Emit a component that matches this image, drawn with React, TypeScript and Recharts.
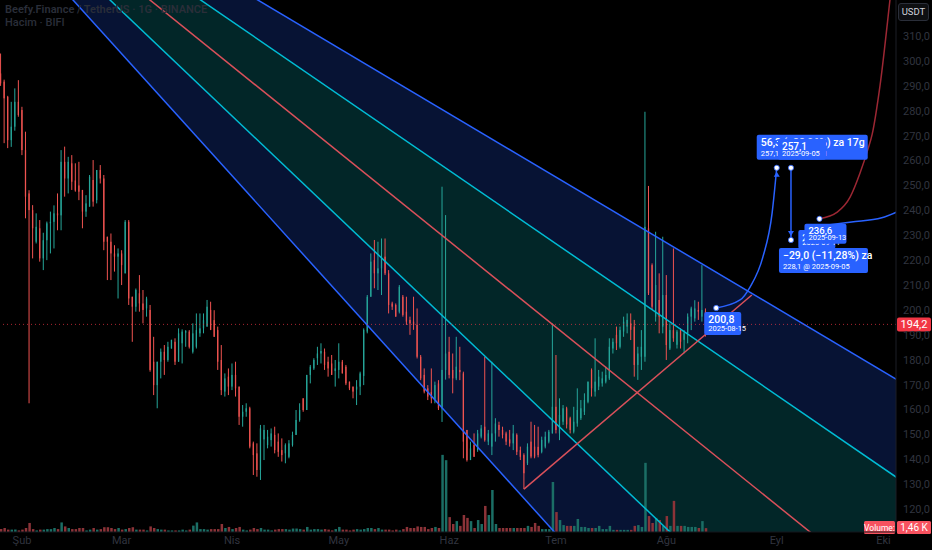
import React from "react";
import {
  Area,
  Bar,
  Cell,
  ComposedChart,
  Line,
  ReferenceDot,
  ReferenceLine,
  XAxis,
  YAxis,
} from "recharts";

const W = 932;
const H = 550;
const FONT = "Roboto, 'Noto Sans', sans-serif";

const BG = "#000000";
const TEXT = "#30343f";
const UP = "#26a69a";
const DOWN = "#ef5350";
const UP_VOL = "#1b6e65";
const DOWN_VOL = "#8c3338";
const FAN_BLUE = "#2962ff";
const FAN_CYAN = "#00bcd4";
const FAN_RED = "#d9505a";
const NAVY = "#071334";
const TEAL = "#022628";
const NOTE_BLUE = "#2962ff";
const PATH_RED = "#9c2733";
const BADGE_RED = "#f23645";

// day 0 = 2025-02-01, first candle = 2025-01-26
const FIRST_DAY = -6;
const X_MIN = -6.18;
const X_MAX = 245.5;
const Y_MIN = 110.8;
const Y_MAX = 324.5;

const MONTH_TICKS = [0, 28, 59, 89, 120, 150, 181, 212, 242];
const MONTH_LABELS = ["Şub", "Mar", "Nis", "May", "Haz", "Tem", "Ağu", "Eyl", "Eki"];
const PRICE_TICKS = [120, 130, 140, 150, 160, 170, 180, 190, 200, 210, 220, 230, 240, 250, 260, 270, 280, 290, 300, 310];

const OPEN = [
  295.0, 291.7, 285.6, 268.2, 273.6, 283.6, 280.3, 264.2, 246.8, 240.1,
  227.4, 232.8, 220.7, 228.0, 234.8, 235.4, 238.8, 238.0, 259.5, 252.8,
  258.9, 252.0, 250.0, 248.2, 239.5, 241.5, 252.2, 244.1, 256.2, 252.8,
  229.4, 227.4, 222.7, 221.4, 222.7, 214.7, 235.4, 205.3, 201.3, 206.7,
  202.6, 200.6, 200.0, 179.2, 169.8, 179.2, 183.2, 179.9, 184.5, 187.2,
  179.2, 186.6, 190.9, 191.3, 183.2, 185.2, 190.6, 192.6, 193.3, 200.0,
  195.9, 191.9, 179.9, 167.2, 173.2, 169.2, 173.9, 169.2, 157.1, 159.1,
  160.5, 146.4, 142.4, 135.7, 148.0, 145.7, 147.7, 149.8, 147.1, 143.7,
  142.4, 141.0, 145.7, 149.8, 155.8, 164.5, 159.8, 173.9, 176.5, 180.6,
  182.5, 183.2, 179.2, 178.5, 175.5, 175.9, 179.2, 177.2, 171.2, 169.2,
  168.0, 169.2, 173.5, 191.3, 205.3, 220.0, 214.7, 216.7, 221.4, 214.7,
  202.6, 202.0, 199.3, 205.3, 199.3, 196.0, 195.3, 194.0, 181.2, 173.9,
  168.5, 167.0, 164.0, 170.5, 160.5, 175.9, 183.2, 175.9, 172.5, 175.9,
  174.5, 151.8, 139.7, 145.7, 143.7, 149.1, 153.1, 147.1, 145.1, 150.4,
  153.8, 151.8, 150.4, 148.0, 146.4, 149.8, 143.7, 141.7, 138.4, 147.1,
  145.1, 145.0, 143.0, 145.1, 147.1, 150.4, 161.1, 150.4, 155.1, 160.5,
  156.5, 151.1, 154.4, 156.5, 159.1, 163.1, 175.9, 167.2, 169.2, 170.5,
  171.2, 172.5, 184.5, 190.0, 185.2, 191.3, 193.3, 194.6, 193.3, 177.9,
  181.2, 181.2, 232.8, 218.0, 197.3, 204.0, 193.3, 206.0, 184.5, 191.9,
  186.0, 191.9, 188.0, 190.6, 197.3, 196.6, 200.0, 197.3, 199.3,
];

const HIGH = [
  303.0, 292.5, 286.0, 283.6, 289.0, 292.3, 281.6, 271.6, 248.1, 242.1,
  238.8, 236.1, 231.0, 235.5, 239.5, 242.0, 246.8, 264.2, 265.6, 261.5,
  262.2, 258.9, 259.5, 248.2, 246.1, 254.2, 260.2, 256.2, 258.2, 254.2,
  229.4, 230.7, 226.0, 224.7, 224.0, 236.1, 236.1, 205.3, 208.6, 214.0,
  208.0, 205.3, 202.0, 189.2, 179.2, 184.5, 185.9, 187.2, 188.0, 188.6,
  192.6, 192.2, 191.9, 191.9, 194.6, 198.6, 198.6, 198.6, 204.0, 203.3,
  199.9, 193.3, 185.9, 174.5, 176.5, 178.5, 179.2, 169.2, 161.8, 162.5,
  161.1, 147.1, 146.4, 153.8, 153.8, 151.8, 152.4, 153.1, 150.4, 148.4,
  146.4, 147.7, 151.1, 159.8, 162.5, 164.5, 173.9, 177.9, 180.6, 185.2,
  186.6, 184.5, 181.2, 181.9, 179.9, 186.6, 179.9, 177.9, 171.2, 169.2,
  171.8, 175.2, 192.6, 206.0, 222.7, 228.1, 227.4, 228.7, 228.7, 216.0,
  203.3, 202.6, 210.0, 206.0, 205.3, 197.3, 205.3, 200.6, 181.9, 176.5,
  169.8, 176.5, 171.2, 171.8, 249.5, 238.1, 189.2, 182.5, 189.2, 185.2,
  175.2, 151.8, 147.1, 150.4, 151.8, 153.8, 181.2, 151.8, 179.2, 156.5,
  155.1, 153.1, 151.1, 151.8, 153.8, 150.4, 145.1, 142.4, 146.4, 155.1,
  153.8, 153.1, 149.1, 151.1, 151.8, 194.6, 181.9, 164.5, 161.8, 161.1,
  157.1, 161.1, 168.5, 163.8, 166.5, 171.2, 176.5, 188.6, 175.9, 175.2,
  177.2, 188.6, 188.6, 193.3, 193.3, 197.3, 198.6, 198.6, 196.0, 185.2,
  191.9, 279.6, 249.8, 218.7, 231.4, 214.7, 229.4, 214.0, 194.6, 224.7,
  192.0, 192.6, 191.9, 198.6, 201.3, 203.9, 203.3, 218.0, 200.6,
];

const LOW = [
  290.0, 267.0, 265.0, 265.5, 272.0, 277.6, 262.2, 236.8, 162.5, 220.7,
  226.7, 219.4, 216.0, 220.0, 222.7, 224.7, 232.0, 232.0, 245.5, 246.8,
  248.2, 247.5, 244.1, 232.8, 237.4, 241.5, 241.5, 242.8, 250.8, 224.0,
  212.0, 212.0, 215.4, 204.6, 210.0, 214.7, 202.0, 187.2, 199.3, 199.3,
  194.6, 197.3, 175.2, 165.8, 160.5, 172.5, 173.9, 179.2, 184.5, 177.9,
  179.2, 178.5, 185.2, 184.5, 182.5, 184.5, 189.2, 190.6, 193.3, 191.9,
  189.2, 175.9, 165.8, 165.2, 165.8, 167.8, 165.2, 153.8, 153.1, 157.1,
  144.4, 133.7, 133.0, 131.7, 139.7, 144.4, 145.1, 142.4, 141.0, 139.1,
  138.4, 140.4, 145.1, 149.8, 155.1, 159.1, 159.8, 170.5, 175.9, 177.9,
  178.5, 175.9, 173.2, 173.9, 169.2, 172.5, 174.5, 169.8, 167.8, 164.5,
  161.8, 165.8, 169.8, 190.6, 205.3, 208.7, 208.0, 206.0, 214.0, 198.6,
  200.0, 197.3, 198.6, 197.3, 194.0, 190.0, 192.0, 180.5, 171.8, 166.5,
  163.8, 162.5, 162.5, 159.8, 155.0, 172.0, 172.5, 166.5, 171.8, 171.8,
  140.4, 139.1, 139.7, 141.0, 143.0, 148.4, 147.1, 145.7, 141.7, 147.1,
  149.1, 148.4, 145.7, 145.1, 143.7, 141.7, 139.7, 128.0, 137.7, 140.4,
  140.4, 140.8, 142.4, 144.4, 146.4, 150.4, 150.4, 147.7, 153.8, 152.4,
  150.4, 150.4, 153.1, 155.8, 157.8, 162.5, 165.2, 165.2, 167.8, 169.2,
  170.5, 171.9, 182.5, 183.9, 184.5, 189.2, 190.6, 187.9, 173.2, 171.9,
  175.9, 179.2, 206.0, 200.0, 195.3, 190.6, 190.6, 179.9, 183.9, 187.2,
  184.5, 184.5, 182.6, 186.6, 191.9, 195.3, 196.0, 195.3, 189.3,
];

const CLOSE = [
  291.0, 285.0, 268.2, 273.6, 283.6, 278.3, 264.2, 245.5, 240.1, 232.8,
  233.4, 220.7, 228.0, 234.8, 235.4, 238.8, 238.0, 259.5, 252.8, 259.5,
  251.5, 248.0, 247.5, 239.5, 242.8, 253.5, 243.5, 256.2, 252.8, 227.4,
  227.4, 222.7, 221.4, 222.7, 218.0, 235.4, 204.6, 201.3, 208.0, 202.6,
  200.0, 204.6, 175.9, 169.8, 179.2, 183.2, 179.9, 185.2, 188.0, 179.2,
  190.6, 191.3, 191.5, 185.2, 190.6, 191.9, 192.6, 195.9, 201.3, 192.0,
  189.2, 179.2, 167.8, 172.5, 169.2, 173.9, 168.5, 157.1, 159.1, 160.5,
  145.1, 141.7, 135.7, 152.4, 151.8, 149.1, 150.4, 143.7, 143.0, 141.7,
  145.7, 146.4, 149.8, 155.8, 159.8, 159.8, 173.9, 177.2, 179.9, 182.5,
  183.5, 177.9, 176.5, 173.9, 176.5, 179.2, 174.5, 170.5, 168.5, 167.2,
  169.2, 174.5, 192.0, 205.3, 219.4, 214.7, 216.7, 220.7, 214.7, 202.0,
  201.3, 197.3, 209.3, 198.0, 195.3, 194.6, 194.0, 181.2, 172.5, 167.2,
  165.2, 164.5, 169.8, 160.5, 175.9, 182.5, 173.9, 172.5, 177.2, 175.0,
  147.1, 139.7, 144.4, 141.0, 150.4, 152.4, 147.7, 150.4, 150.4, 154.4,
  151.8, 149.8, 147.1, 146.4, 150.4, 143.0, 141.0, 134.4, 145.1, 141.1,
  141.1, 141.7, 147.8, 149.1, 151.1, 161.1, 151.8, 157.8, 160.5, 154.0,
  151.8, 155.1, 159.8, 160.5, 163.8, 171.2, 168.5, 171.2, 173.2, 172.5,
  173.9, 185.2, 187.2, 186.6, 191.9, 195.3, 196.0, 192.0, 177.9, 182.5,
  185.2, 233.4, 206.7, 201.3, 210.0, 197.3, 206.0, 185.9, 191.9, 188.6,
  191.3, 187.2, 190.6, 197.3, 200.6, 200.6, 199.3, 200.0, 194.2,
];

// volume in thousands
const VOLUME = [
  1.1, 1.5, 0.9, 0.9, 0.9, 0.6, 0.9, 1.5, 3.4, 1.1,
  0.6, 0.9, 0.9, 1.1, 1.1, 1.5, 1.1, 3.6, 2.1, 1.5,
  1.1, 1.1, 1.5, 1.5, 0.6, 0.9, 1.5, 0.9, 1.1, 1.8,
  1.8, 1.5, 1.1, 1.5, 0.9, 1.1, 1.5, 1.8, 0.9, 0.9,
  0.9, 0.6, 2.1, 1.5, 1.1, 0.9, 0.9, 0.6, 0.6, 0.6,
  0.6, 0.9, 0.6, 0.9, 2.4, 3.6, 1.1, 1.1, 0.9, 1.1,
  1.1, 1.1, 3.0, 1.5, 1.9, 1.1, 1.5, 1.9, 0.9, 0.6,
  0.9, 1.5, 1.1, 1.5, 0.9, 0.9, 0.6, 0.9, 1.1, 1.1,
  1.1, 0.9, 1.3, 1.3, 1.1, 0.9, 1.9, 0.9, 1.1, 1.1,
  0.9, 1.1, 0.9, 0.6, 1.1, 1.9, 0.9, 0.9, 0.6, 0.9,
  1.1, 0.9, 1.1, 1.5, 1.5, 1.1, 1.5, 0.9, 0.9, 0.9,
  0.6, 0.9, 0.6, 1.1, 1.9, 1.5, 1.5, 2.1, 1.9, 1.9,
  1.1, 1.5, 1.9, 1.5, 29, 27, 5.6, 3.0, 4.1, 2.3,
  6.4, 5.3, 4.1, 1.5, 4.5, 3.0, 9.8, 6.4, 15.8, 3.0,
  1.5, 1.5, 1.5, 1.5, 1.5, 1.5, 1.5, 1.5, 2.3, 1.9,
  3.4, 2.3, 1.1, 1.1, 1.1, 18.8, 7.5, 4.5, 2.6, 2.3,
  2.3, 2.3, 4.9, 1.9, 1.9, 1.5, 1.5, 1.5, 2.3, 1.1,
  1.1, 2.3, 0.8, 0.8, 0.8, 0.8, 0.8, 0.8, 2.3, 2.6,
  1.9, 26, 6.0, 3.4, 5.3, 4.5, 2.3, 6.0, 2.3, 11.7,
  2.3, 2.3, 2.3, 1.9, 1.9, 1.9, 1.5, 4.1, 1.46,
];

// speed fan drawn over the chart: price of each ray at the two ends
const FAN_DAYS = [-7, 246];
const FAN_OUTER_LOW = [358.2, -41.6];
const FAN_INNER_LOW = [367.6, 23.9];
const FAN_MEDIAN = [374.0, 82.4];
const FAN_INNER_HIGH = [380.6, 132.4];
const FAN_OUTER_HIGH = [386.7, 171.8];

// rising trend line from the June low
const TREND_DAYS = [141, 205];
const TREND_PRICES = [128.0, 206.0];

// projection paths
const RISE_DAYS = [195, 201.7, 204.5, 208.1, 210.7, 212];
const RISE_PRICES = [200.8, 204.0, 209.2, 221.2, 238.9, 257.1];
const SIDE_DAYS = [222, 233, 241.5, 246];
const SIDE_PRICES = [233.3, 235.3, 237.0, 239.5];
const SPIKE_DAYS = [224, 229, 232.6, 235.4, 237.6, 238.8, 241, 243.8, 245];
const SPIKE_PRICES = [236.6, 239.3, 245.3, 255.0, 264.5, 270.5, 290.0, 324.5, 340.0];

const NOTE_DAYS = [195, 212, 216, 216, 222, 224];
const NOTE_PRICES = [200.8, 257.1, 257.1, 228.1, 233.3, 236.6];
const NOTE_TITLES = ["200,8", "56,3 (+28,06%) za 17g", "257,1", "−29,0 (−11,28%) za", "232,4", "236,6"];
const NOTE_SUBS = ["2025-08-15", "257,1 @ 2025-09-01", "2025-09-05", "228,1 @ 2025-09-05", "2025-09-11", "2025-09-13"];
const NOTE_BOXES = [
  { dx: -12, dy: 4, w: 37, h: 23, size: 10.5, dot: true, arrow: "" },
  { dx: -20, dy: -33, w: 111, h: 25, size: 10.5, dot: true, arrow: "up" },
  { dx: -13, dy: -29, w: 48, h: 21, size: 10, dot: true, arrow: "" },
  { dx: -12, dy: 8, w: 89, h: 25, size: 10.5, dot: true, arrow: "down" },
  { dx: -14, dy: 3, w: 37, h: 19, size: 9.5, dot: false, arrow: "" },
  { dx: -15, dy: 5, w: 42, h: 20, size: 9.5, dot: true, arrow: "" },
];

type Row = { d: number; o: number; h: number; l: number; c: number; range: [number, number]; vol: number };

const rows: Row[] = OPEN.map((o, i) => ({
  d: FIRST_DAY + i,
  o,
  h: HIGH[i],
  l: LOW[i],
  c: CLOSE[i],
  range: [LOW[i], HIGH[i]],
  vol: VOLUME[i],
}));

const fanRows = FAN_DAYS.map((d, i) => ({
  d,
  outerLow: FAN_OUTER_LOW[i],
  innerLow: FAN_INNER_LOW[i],
  median: FAN_MEDIAN[i],
  innerHigh: FAN_INNER_HIGH[i],
  outerHigh: FAN_OUTER_HIGH[i],
  bandLow: [FAN_OUTER_LOW[i], FAN_INNER_LOW[i]],
  bandMid: [FAN_INNER_LOW[i], FAN_INNER_HIGH[i]],
  bandHigh: [FAN_INNER_HIGH[i], FAN_OUTER_HIGH[i]],
}));

const trendRows = TREND_DAYS.map((d, i) => ({ d, p: TREND_PRICES[i] }));
const riseRows = RISE_DAYS.map((d, i) => ({ d, p: RISE_PRICES[i] }));
const sideRows = SIDE_DAYS.map((d, i) => ({ d, p: SIDE_PRICES[i] }));
const spikeRows = SPIKE_DAYS.map((d, i) => ({ d, p: SPIKE_PRICES[i] }));

const fmtPrice = (v: number) => v.toFixed(1).replace(".", ",");

function Candle(props: any) {
  const { x, y, width, height, payload } = props;
  if (!payload || x == null || y == null) return <g />;
  const color = payload.c >= payload.o ? UP : DOWN;
  const span = payload.h - payload.l;
  const toY = (v: number) => (span > 0 ? y + ((payload.h - v) / span) * height : y);
  const top = toY(Math.max(payload.o, payload.c));
  const bottom = toY(Math.min(payload.o, payload.c));
  const mid = x + width / 2;
  return (
    <g>
      <line x1={mid} x2={mid} y1={y} y2={y + height} stroke={color} strokeWidth={1} />
      <rect x={x} y={top} width={width} height={Math.max(bottom - top, 1)} fill={color} />
    </g>
  );
}

function noteBox(i: number) {
  return (props: any) => {
    const { cx, cy } = props;
    const b = NOTE_BOXES[i];
    const left = cx + b.dx;
    const top = cy + b.dy;
    return (
      <g>
        <rect x={left} y={top} width={b.w} height={b.h} rx={2} fill={NOTE_BLUE} />
        <text x={left + 4} y={top + b.size + 1} fill="#ffffff" fontSize={b.size} fontWeight={500} fontFamily={FONT}>
          {NOTE_TITLES[i]}
        </text>
        <text x={left + 4} y={top + b.h - 4} fill="#ffffff" fontSize={7.5} fontFamily={FONT}>
          {NOTE_SUBS[i]}
        </text>
      </g>
    );
  };
}

function noteDot(i: number) {
  return (props: any) => {
    const { cx, cy } = props;
    const b = NOTE_BOXES[i];
    if (!b.dot) return <g />;
    return (
      <g>
        {b.arrow === "up" && <path d={`M${cx - 3},${cy + 9} L${cx},${cy + 4} L${cx + 3},${cy + 9} Z`} fill={NOTE_BLUE} />}
        {b.arrow === "down" && <path d={`M${cx - 3},${cy - 9} L${cx},${cy - 4} L${cx + 3},${cy - 9} Z`} fill={NOTE_BLUE} />}
        <circle cx={cx} cy={cy} r={2.6} fill="#ffffff" stroke={NOTE_BLUE} strokeWidth={0.8} />
      </g>
    );
  };
}

function PriceBadge(props: any) {
  const { viewBox } = props;
  const x = viewBox.x + viewBox.width + 1;
  const y = viewBox.y;
  return (
    <g>
      <rect x={x} y={y - 7} width={34} height={14} rx={2} fill={BADGE_RED} />
      <text x={x + 17} y={y + 4} textAnchor="middle" fill="#ffffff" fontSize={11} fontFamily={FONT}>
        194,2
      </text>
    </g>
  );
}

function VolumeBadge(props: any) {
  const { viewBox } = props;
  const right = viewBox.x + viewBox.width;
  const y = viewBox.y;
  return (
    <g>
      <rect x={right - 32} y={y - 7} width={31} height={13} rx={1.5} fill="#f7525f" />
      <text x={right - 16.5} y={y + 3} textAnchor="middle" fill="#ffffff" fontSize={8.5} fontFamily={FONT}>
        Volume:
      </text>
      <rect x={right + 1} y={y - 7} width={34} height={13} rx={1.5} fill="#f7525f" />
      <text x={right + 18} y={y + 3} textAnchor="middle" fill="#ffffff" fontSize={10} fontFamily={FONT}>
        1,46 K
      </text>
    </g>
  );
}

const lineProps = {
  xAxisId: "main",
  yAxisId: "price",
  type: "linear" as const,
  strokeWidth: 1.5,
  dot: false,
  activeDot: false,
  isAnimationActive: false,
};

export default function App() {
  return (
    <div style={{ position: "fixed", left: 0, top: 0, width: W, height: H, background: BG, fontFamily: FONT }}>
      <ComposedChart width={W} height={H} data={rows} margin={{ top: 0, right: 0, bottom: 0, left: 0 }}>
        <XAxis
          xAxisId="main"
          type="number"
          dataKey="d"
          domain={[X_MIN, X_MAX]}
          allowDataOverflow
          ticks={MONTH_TICKS}
          interval={0}
          tickFormatter={(v: number) => MONTH_LABELS[MONTH_TICKS.indexOf(v)] ?? ""}
          tick={{ fill: TEXT, fontSize: 11, fontFamily: FONT }}
          tickLine={false}
          tickSize={2}
          tickMargin={2}
          axisLine={{ stroke: "#15171d" }}
          height={18}
        />
        <XAxis xAxisId="vol" type="number" dataKey="d" domain={[X_MIN, X_MAX]} allowDataOverflow hide />
        <YAxis
          yAxisId="price"
          orientation="right"
          type="number"
          domain={[Y_MIN, Y_MAX]}
          allowDataOverflow
          ticks={PRICE_TICKS}
          interval={0}
          tickFormatter={fmtPrice}
          tick={{ fill: TEXT, fontSize: 11, fontFamily: FONT }}
          tickLine={false}
          tickSize={4}
          tickMargin={3}
          axisLine={{ stroke: "#1c1f26" }}
          width={36}
        />
        <YAxis yAxisId="vol" type="number" domain={[0, 200]} allowDataOverflow hide />

        <Area xAxisId="main" yAxisId="price" data={fanRows} dataKey="bandLow" type="linear" stroke="none" fill={NAVY} fillOpacity={1} activeDot={false} isAnimationActive={false} />
        <Area xAxisId="main" yAxisId="price" data={fanRows} dataKey="bandMid" type="linear" stroke="none" fill={TEAL} fillOpacity={1} activeDot={false} isAnimationActive={false} />
        <Area xAxisId="main" yAxisId="price" data={fanRows} dataKey="bandHigh" type="linear" stroke="none" fill={NAVY} fillOpacity={1} activeDot={false} isAnimationActive={false} />

        <Bar xAxisId="vol" yAxisId="vol" dataKey="vol" barSize={2.5} isAnimationActive={false}>
          {rows.map((r, i) => (
            <Cell key={i} fill={r.c >= r.o ? UP_VOL : DOWN_VOL} />
          ))}
        </Bar>
        <Bar xAxisId="main" yAxisId="price" dataKey="range" barSize={2.5} shape={Candle} isAnimationActive={false} />

        <Line {...lineProps} data={fanRows} dataKey="outerLow" stroke={FAN_BLUE} />
        <Line {...lineProps} data={fanRows} dataKey="innerLow" stroke={FAN_CYAN} />
        <Line {...lineProps} data={fanRows} dataKey="median" stroke={FAN_RED} />
        <Line {...lineProps} data={fanRows} dataKey="innerHigh" stroke={FAN_CYAN} />
        <Line {...lineProps} data={fanRows} dataKey="outerHigh" stroke={FAN_BLUE} />
        <Line {...lineProps} data={trendRows} dataKey="p" stroke={FAN_RED} />

        <Line {...lineProps} data={riseRows} dataKey="p" type="monotone" stroke={NOTE_BLUE} />
        <Line {...lineProps} data={sideRows} dataKey="p" type="monotone" stroke={NOTE_BLUE} />
        <Line {...lineProps} data={spikeRows} dataKey="p" type="monotone" stroke={PATH_RED} />

        <ReferenceLine
          xAxisId="main"
          yAxisId="price"
          y={194.2}
          stroke={BADGE_RED}
          strokeOpacity={0.7}
          strokeDasharray="1 3"
          label={<PriceBadge />}
        />
        <ReferenceLine xAxisId="vol" yAxisId="vol" y={1.46} stroke="none" label={<VolumeBadge />} />
        <ReferenceLine
          xAxisId="main"
          yAxisId="price"
          segment={[
            { x: NOTE_DAYS[2], y: NOTE_PRICES[2] },
            { x: NOTE_DAYS[3], y: NOTE_PRICES[3] },
          ]}
          stroke={NOTE_BLUE}
          strokeWidth={1.5}
        />

        {NOTE_DAYS.map((d, i) => (
          <ReferenceDot key={`b${i}`} xAxisId="main" yAxisId="price" x={d} y={NOTE_PRICES[i]} r={0} ifOverflow="visible" shape={noteBox(i)} />
        ))}
        {NOTE_DAYS.map((d, i) => (
          <ReferenceDot key={`d${i}`} xAxisId="main" yAxisId="price" x={d} y={NOTE_PRICES[i]} r={3} ifOverflow="visible" shape={noteDot(i)} />
        ))}
      </ComposedChart>

      <div style={{ position: "absolute", left: 5, top: 3, color: "#2a2e39", fontSize: 11, fontWeight: 600, lineHeight: "13px", pointerEvents: "none" }}>
        <div>Beefy.Finance / TetherUS · 1G · BINANCE</div>
        <div style={{ fontWeight: 500 }}>Hacim · BIFI</div>
      </div>
      <div
        style={{
          position: "absolute",
          left: 898,
          top: 3,
          width: 29,
          height: 16,
          border: "1px solid #2a2e39",
          borderRadius: 3,
          background: "#0e0f12",
          color: "#d1d4dc",
          fontSize: 9.5,
          lineHeight: "16px",
          textAlign: "center",
        }}
      >
        USDT
      </div>
    </div>
  );
}
